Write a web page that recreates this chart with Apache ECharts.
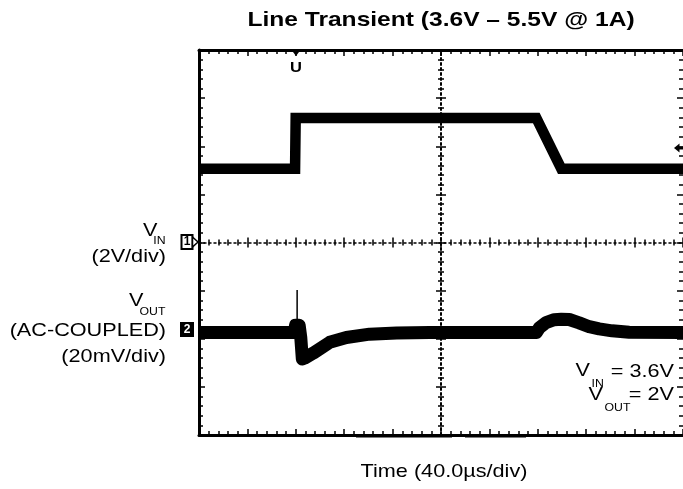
<!DOCTYPE html>
<html>
<head>
<meta charset="utf-8">
<script src="https://cdn.jsdelivr.net/npm/echarts@6/dist/echarts.min.js"></script>
<style>
  html, body { margin: 0; padding: 0; background: #fff; }
  #chart { width: 683px; height: 489px; }
</style>
</head>
<body>
<div id="chart"></div>
<script>
// Scope capture: time in µs relative to screen centre (40 µs/div, 10 div)
const timeMin = -200;
const timeMax = 200;
const timeDiv = 40;

// Channel 1: input voltage, volts (2 V/div, ground at screen centre)
const vinDiv = 2;
const vinTime  = [-200, -120.6, -120.1, 78.8, 99.4, 200];
const vinVolts = [3.07, 3.07, 5.17, 5.17, 3.07, 3.07];

// Channel 2: output voltage, AC-coupled, mV (20 mV/div)
const voutDiv = 20;
const voutOffsetDiv = -1.87;   // channel 2 reference level, in divisions from centre
const voutTime = [-200, -121.2, -120.2, -117.2, -115.9, -114.6, -112.6, -105.7, -92.0, -78.2, -59.0, -36.7, -9.5,
                  78.8, 81.2, 86.8, 93.6, 99.4, 106.0, 114.2, 122.5, 130.7, 141.4, 155.5, 200];
const voutMv   = [0, 0, 3.0, 3.0, -2.0, -11.0, -10.6, -8.6, -4.1, -2.1, -0.7, -0.2, 0,
                  0, 1.9, 4.1, 5.3, 5.5, 5.4, 4.0, 2.4, 1.5, 0.7, 0.1, 0];

// Narrow switching spike on the output at the input step
const spikeTime = [-118.9, -118.9];
const spikeMv   = [0, 17.7];

const FONT = '"Liberation Sans", Arial, Helvetica, sans-serif';
const SX = 1.17;   // horizontal stretch of the lettering
const INK = '#000';

function pairs(xs, ys) { return xs.map((x, i) => [x, ys[i]]); }

function txt(text, x, y, size, align, bold, extra, fill) {
  return Object.assign({
    type: 'text', x: x, y: y, scaleX: SX, z: 10,
    style: {
      text: text,
      font: (bold ? 'bold ' : '') + size + 'px ' + FONT,
      fill: fill || INK,
      align: align, textAlign: align,
      verticalAlign: 'middle', textVerticalAlign: 'middle'
    }
  }, extra || {});
}

const tickStyle = { color: INK, width: 1.5 };
function frameX(position) {
  return {
    type: 'value', min: timeMin, max: timeMax, interval: timeDiv, position: position,
    axisLine: { show: true, onZero: false, lineStyle: { color: INK, width: 3 } },
    axisTick: { show: true, inside: true, length: 6, lineStyle: tickStyle },
    minorTick: { show: true, splitNumber: 5, length: 4, lineStyle: tickStyle },
    axisLabel: { show: false }, splitLine: { show: false }
  };
}
function centreX(inside, showLine) {
  return {
    type: 'value', min: timeMin, max: timeMax, interval: timeDiv, position: 'bottom',
    axisLine: { show: showLine, onZero: true, onZeroAxisIndex: 0,
                lineStyle: { color: INK, width: 1.5, type: [2, 3] } },
    axisTick: { show: true, inside: inside, length: 5, lineStyle: tickStyle },
    minorTick: { show: true, splitNumber: 5, length: 3, lineStyle: tickStyle },
    axisLabel: { show: false }, splitLine: { show: false }
  };
}
const vinMin = -4 * vinDiv, vinMax = 4 * vinDiv;
function frameY(position, showLine) {
  return {
    type: 'value', min: vinMin, max: vinMax, interval: vinDiv, position: position,
    axisLine: { show: showLine, onZero: false, lineStyle: { color: INK, width: 3 } },
    axisTick: { show: true, inside: true, length: 6, lineStyle: tickStyle },
    minorTick: { show: true, splitNumber: 5, length: 4, lineStyle: tickStyle },
    axisLabel: { show: false }, splitLine: { show: false }
  };
}
function centreY(inside, showLine) {
  return {
    type: 'value', min: vinMin, max: vinMax, interval: vinDiv, position: 'left',
    axisLine: { show: showLine, onZero: true, onZeroAxisIndex: 0,
                lineStyle: { color: INK, width: 2, type: [2, 3] } },
    axisTick: { show: true, inside: inside, length: 5, lineStyle: tickStyle },
    minorTick: { show: true, splitNumber: 5, length: 3, lineStyle: tickStyle },
    axisLabel: { show: false }, splitLine: { show: false }
  };
}

// Channel 2 scale: 8 divisions tall, reference level offset from centre
const voutCentre = -voutOffsetDiv * voutDiv;
const voutAxis = {
  type: 'value', show: false,
  min: voutCentre - 4 * voutDiv, max: voutCentre + 4 * voutDiv,
  axisLine: { onZero: false }
};

const chart = echarts.init(document.getElementById('chart'), null, { renderer: 'canvas' });

const option = {
  animation: false,
  backgroundColor: '#fff',
  grid: { left: 199, top: 50, width: 485, height: 385, containLabel: false },
  xAxis: [ frameX('bottom'), frameX('top'), centreX(true, true), centreX(false, false) ],
  yAxis: [ frameY('left', true), voutAxis, frameY('right', false), centreY(true, true), centreY(false, false) ],
  series: [
    {
      name: 'VIN', type: 'line', xAxisIndex: 0, yAxisIndex: 0,
      data: pairs(vinTime, vinVolts), symbol: 'none', z: 3,
      lineStyle: { color: INK, width: 10.5, join: 'miter', miterLimit: 4 }
    },
    {
      name: 'VOUT', type: 'line', xAxisIndex: 0, yAxisIndex: 1,
      data: pairs(voutTime, voutMv), symbol: 'none', z: 3,
      lineStyle: { color: INK, width: 13, join: 'round' }
    },
    {
      name: 'VOUT spike', type: 'line', xAxisIndex: 0, yAxisIndex: 1,
      data: pairs(spikeTime, spikeMv), symbol: 'none', z: 3,
      lineStyle: { color: INK, width: 1.5 }
    }
  ],
  graphic: [
    txt('Line Transient (3.6V \u2013 5.5V @ 1A)', 441, 20.5, 21, 'center', true),
    txt('Time (40.0\u00b5s/div)', 444, 472, 18.5, 'center', false),

    // channel 1 caption
    txt('V', 157.5, 231, 18.5, 'right', false),
    txt('IN', 165.5, 241, 10.5, 'right', false),
    txt('(2V/div)', 166, 256.5, 18.5, 'right', false),

    // channel 2 caption
    txt('V', 143.5, 301, 18.5, 'right', false),
    txt('OUT', 165.5, 312.5, 10.5, 'right', false),
    txt('(AC-COUPLED)', 166, 331, 18.5, 'right', false),
    txt('(20mV/div)', 166, 356.5, 18.5, 'right', false),

    // operating conditions
    txt('V', 575.5, 371, 18.5, 'left', false),
    txt('IN', 591.5, 384, 10.5, 'left', false),
    txt('= 3.6V', 674, 371.5, 18.5, 'right', false),
    txt('V', 588.5, 395, 18.5, 'left', false),
    txt('OUT', 604.5, 408.5, 10.5, 'left', false),
    txt('= 2V', 674, 395, 18.5, 'right', false),

    // trigger position marker
    { type: 'polygon', z: 10, shape: { points: [[291.5, 50], [300.5, 50], [296, 56]] }, style: { fill: INK } },
    txt('U', 296, 67.5, 15, 'center', true, { scaleX: 1.1 }),

    // trigger level marker
    { type: 'polygon', z: 10, shape: { points: [[674, 148], [679.5, 143.5], [679.5, 152.5]] }, style: { fill: INK } },
    { type: 'rect', z: 10, shape: { x: 679, y: 146.5, width: 5, height: 3 }, style: { fill: INK } },

    // channel reference markers
    { type: 'rect', z: 10, shape: { x: 181.5, y: 235, width: 11, height: 14 }, style: { fill: '#fff', stroke: INK, lineWidth: 2 } },
    { type: 'polygon', z: 10, shape: { points: [[192.5, 237], [198, 242], [192.5, 247]] }, style: { fill: '#fff', stroke: INK, lineWidth: 1.5 } },
    txt('1', 187, 242, 12, 'center', true, { scaleX: 1 }),
    { type: 'rect', z: 10, shape: { x: 180, y: 322, width: 14, height: 15 }, style: { fill: INK } },
    txt('2', 187, 329.5, 12, 'center', true, { scaleX: 1 }, '#fff'),

    // heavier stretches of the bottom graticule edge
    { type: 'rect', z: 10, shape: { x: 356, y: 434, width: 96, height: 3.5 }, style: { fill: INK } },
    { type: 'rect', z: 10, shape: { x: 465, y: 434, width: 61, height: 3.5 }, style: { fill: INK } }
  ]
};

chart.setOption(option);
</script>
</body>
</html>
